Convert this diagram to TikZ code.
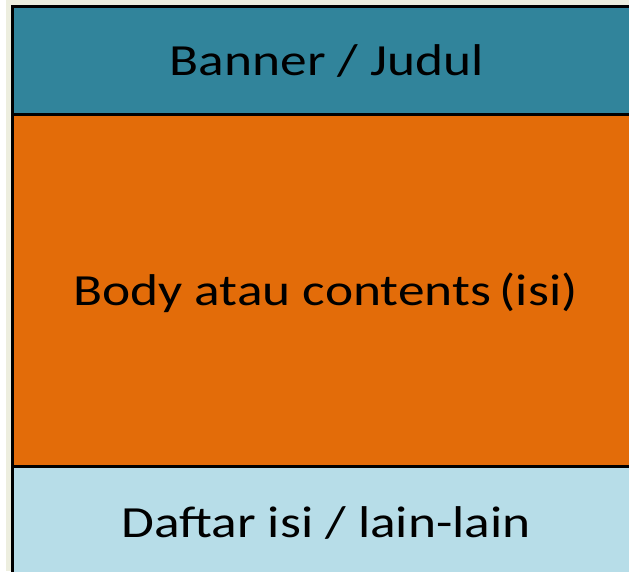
\documentclass[tikz,border=0pt]{standalone}
\usepackage{fontspec}
\usepackage{graphicx}
\setmainfont{Carlito}
\definecolor{teal}{HTML}{31849B}
\definecolor{orng}{HTML}{E36C09}
\definecolor{lblue}{HTML}{B7DDE8}
\definecolor{cream}{HTML}{EDEEDF}
\tikzset{
  panel/.style={draw=black, line width=3pt},
  lbl/.style={anchor=base, inner sep=0pt, font=\fontsize{44.5}{50}\selectfont, text=black}
}
\newcommand{\wide}[1]{\scalebox{1.2}[1]{#1}}
\begin{document}
\begin{tikzpicture}[x=1pt,y=-1pt]
\useasboundingbox (0,0) rectangle (629,571);
\clip (0,0) rectangle (629,571);
\fill[white] (0,0) rectangle (629,571);
\fill[cream] (6,0) rectangle (629,571);
\draw[panel, fill=lblue] (12.5,466) rectangle (645,590);
\draw[panel, fill=orng] (12.5,114.5) rectangle (645,466);
\draw[panel, fill=teal] (12.5,6.5) rectangle (645,114.5);
\node[lbl] (banner) at (327,75) {\wide{Banner / Judul}};
\node[lbl] (body) at (325.5,305) {\wide{Body atau contents\,(isi)}};
\node[lbl] (daftar) at (326,537) {\wide{Daftar isi / lain-lain}};
\end{tikzpicture}
\end{document}
